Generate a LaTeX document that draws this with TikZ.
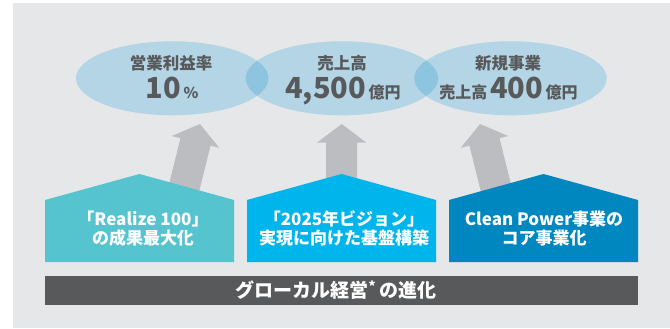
\documentclass[tikz,border=0pt]{standalone}
\usepackage{fontspec}
\setmainfont{Noto Sans CJK JP}
\definecolor{panel}{HTML}{E6E7E8}
\definecolor{ellcol}{HTML}{B3D5E6}
\definecolor{ovlcol}{HTML}{8DC4E0}
\definecolor{txtgray}{HTML}{58595B}
\definecolor{arrgray}{HTML}{BCBDC0}
\definecolor{hone}{HTML}{56C4CF}
\definecolor{htwo}{HTML}{00B4EC}
\definecolor{hthree}{HTML}{0087C0}
\definecolor{barcol}{HTML}{58595B}
\begin{document}
\begin{tikzpicture}[x=1pt,y=-1pt,
  bigarrow/.pic={\fill[arrgray] (0,0) -- (24.5,18.5) -- (15.5,18.5) -- (15.5,110) -- (-15.5,110) -- (-15.5,18.5) -- (-24.5,18.5) -- cycle;},
  lab/.style={inner sep=0pt, anchor=base, text=txtgray, font=\bfseries\fontsize{16.5}{18}\selectfont},
  big/.style={inner sep=0pt, anchor=base, text=txtgray, font=\bfseries},
  htxt/.style={inner sep=0pt, anchor=base, text=white, font=\bfseries\fontsize{17}{19}\selectfont},
  ell/.style={x radius=96.2, y radius=37}
]
\useasboundingbox (0,0) rectangle (670,329);
\fill[white] (0,0) rectangle (670,329);
\fill[panel] (13,3) rectangle (670,328);

% arrows
\coordinate (t1) at (200,124);
\coordinate (t2) at (341.7,124);
\coordinate (t3) at (480,124);
\pic[rotate=-14] at (t1) {bigarrow};
\pic at (t2) {bigarrow};
\pic[rotate=14] at (t3) {bigarrow};

% ellipses
\fill[ellcol] (172.2,78.3) ellipse [ell];
\fill[ellcol] (341.9,78.3) ellipse [ell];
\fill[ellcol] (510.5,78.3) ellipse [ell];
\begin{scope}
\clip (172.2,78.3) ellipse [ell];
\fill[ovlcol] (341.9,78.3) ellipse [ell];
\end{scope}
\begin{scope}
\clip (341.9,78.3) ellipse [ell];
\fill[ovlcol] (510.5,78.3) ellipse [ell];
\end{scope}

% ellipse texts
\node[lab] (l1) at (171,70) {営業利益率};
\node[big] (n1) at (172,98.5) {\fontsize{29}{30}\selectfont 10\fontsize{15}{16}\selectfont\,\%};
\node[lab] (l2) at (342,70) {売上高};
\node[big] (n2) at (343,98.5) {\fontsize{29}{30}\selectfont 4,500\fontsize{16}{17}\selectfont\,億円};
\node[lab] (l3) at (508,70) {新規事業};
\node[big] (n3) at (508.5,98.5) {\fontsize{16}{17}\selectfont 売上高\,\fontsize{29}{30}\selectfont 400\fontsize{16}{17}\selectfont\,億円};

% houses
\fill[hone] (45,262) -- (45,200) -- (139.5,174) -- (234,200) -- (234,262) -- cycle;
\fill[htwo] (247,262) -- (247,200) -- (341.5,174) -- (436,200) -- (436,262) -- cycle;
\fill[hthree] (449,262) -- (449,200) -- (543.5,174) -- (638,200) -- (638,262) -- cycle;

\node[htxt] (h1a) at (143,225.5) {「Realize 100」};
\node[htxt] (h1b) at (143,244.5) {の成果最大化};
\node[htxt] (h2a) at (344,225.5) {「2025年ビジョン」};
\node[htxt] (h2b) at (344,244.5) {実現に向けた基盤構築};
\node[htxt] (h3a) at (544,225.5) {Clean Power事業の};
\node[htxt] (h3b) at (544,244.5) {コア事業化};

% bar
\fill[barcol] (45,276) rectangle (638,305);
\node[htxt, font=\bfseries\fontsize{19}{21}\selectfont] (bar) at (336,297.8) {グローカル経営\textsuperscript{*}\,の進化};
\end{tikzpicture}
\end{document}
